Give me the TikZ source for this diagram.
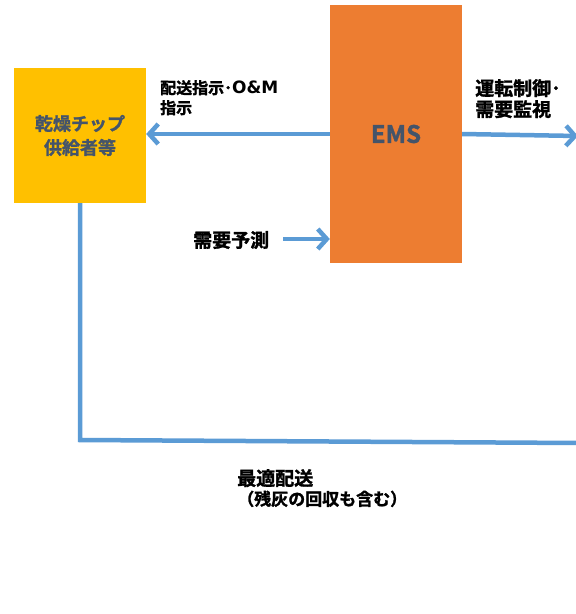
\documentclass[tikz,border=0pt]{standalone}
\usepackage{fontspec}
\setmainfont{Noto Sans CJK JP}
\newfontfamily\jpbold[FakeBold=1.5]{Noto Sans CJK JP Bold}
\newfontfamily\latinbold{DejaVu Sans Bold}
\usetikzlibrary{arrows.meta}
\definecolor{boxorange}{HTML}{ED7D31}
\definecolor{boxyellow}{HTML}{FFC000}
\definecolor{linkblue}{HTML}{5B9BD5}
\definecolor{slate}{HTML}{44546A}
\tikzset{
  flow/.style={draw=linkblue, line width=4.5pt, -{Straight Barb[length=9pt,width=20pt]}},
  plainflow/.style={draw=linkblue, line width=4.5pt},
  lbl/.style={font=\jpbold\fontsize{16}{20}\selectfont, align=left, inner sep=0pt, anchor=north west, text=black},
}
\begin{document}
\begin{tikzpicture}[x=1pt,y=-1pt]
\clip (0,0) rectangle (576,614);
\fill[white] (0,0) rectangle (576,614);
\node[fill=boxyellow, minimum width=132pt, minimum height=135pt, inner sep=0pt, text=slate,
  font=\jpbold\fontsize{18}{24}\selectfont, align=center] (supp) at (80,135.5) {乾燥チップ\\供給者等};
\node[fill=boxorange, minimum width=132pt, minimum height=258pt, inner sep=0pt, text=slate,
  font=\jpbold\fontsize{24}{26}\selectfont] (ems) at (396,134) {EMS};
\coordinate (rightend) at (578,136);
\coordinate (corner) at (80,440);
\coordinate (bottomend) at (580,443);
\coordinate (fcstart) at (283,239);
\draw[flow] (ems.west |- 0,134) -- (supp.east |- 0,134);
\draw[flow] (ems.east |- 0,134) -- (rightend);
\draw[flow] (fcstart) -- (fcstart -| ems.west);
\draw[plainflow] (supp.south) -- (corner) -- (bottomend);
\node[lbl] (l1) at (160,80) {配送指示･{\latinbold\fontsize{17}{20}\selectfont O\&M}\\指示};
\node[lbl, font=\jpbold\fontsize{19}{21}\selectfont] (l2) at (475,79) {運転制御･\\需要監視};
\node[lbl, anchor=west, font=\jpbold\fontsize{19}{21}\selectfont] (l3) at (193,240) {需要予測};
\node[lbl] (l4) at (237,469) {{\fontsize{19}{22}\selectfont 最適配送}\\{\fontsize{17}{22}\selectfont （残灰の回収も含む）}};
\end{tikzpicture}
\end{document}
